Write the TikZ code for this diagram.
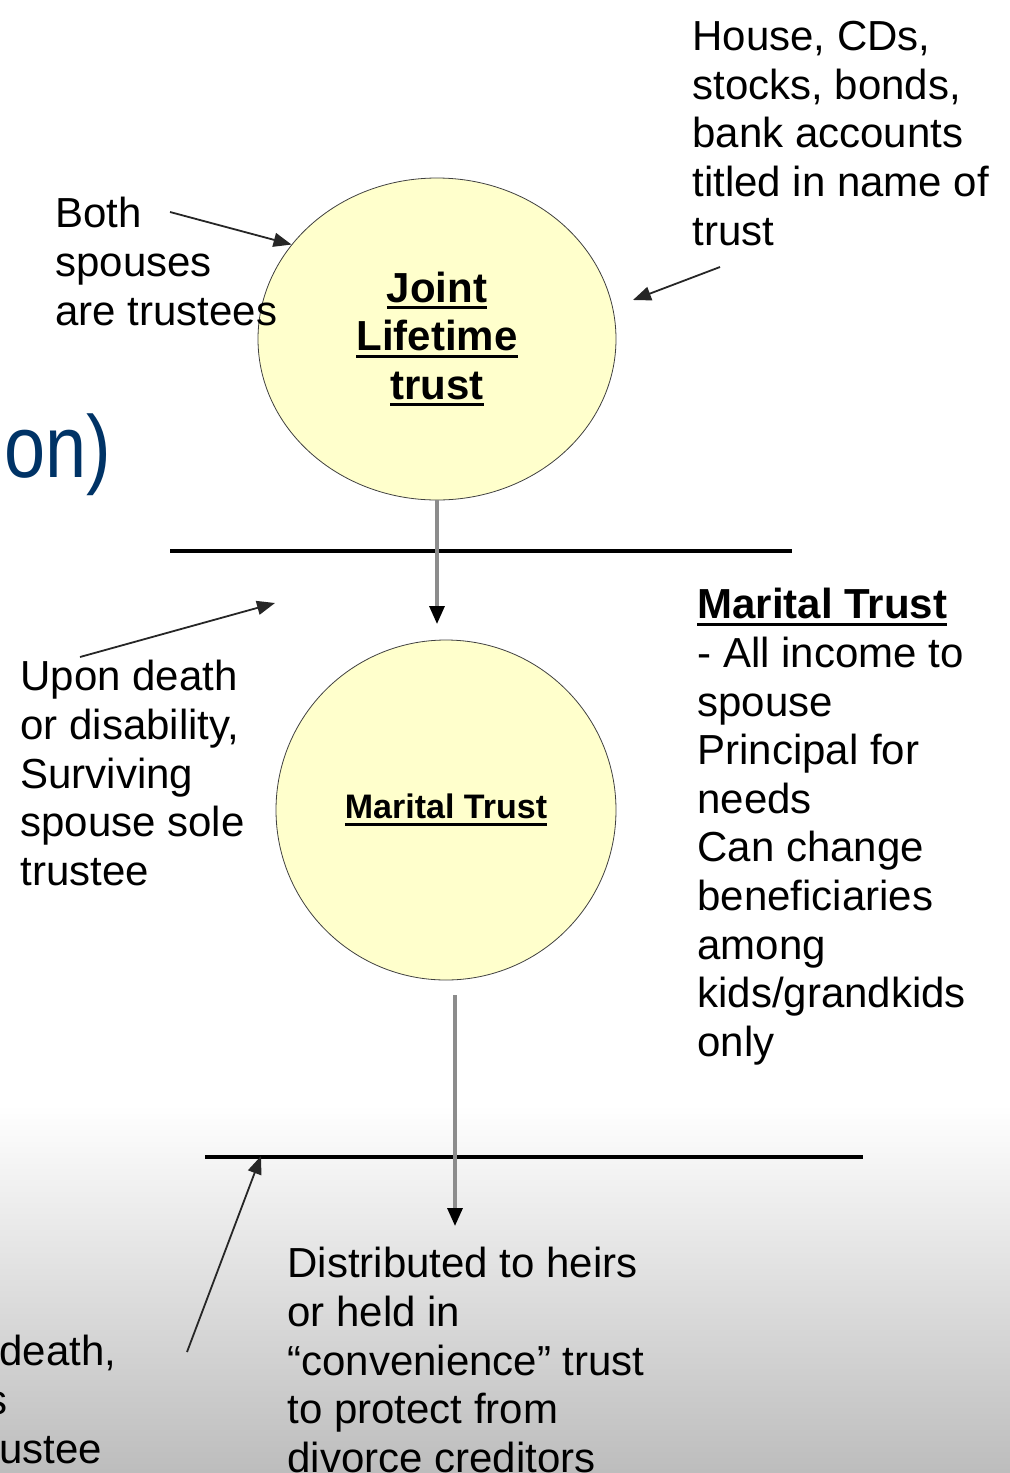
\documentclass[tikz,border=0pt]{standalone}
\usepackage{fontspec}
\setmainfont{Liberation Sans}
\usetikzlibrary{arrows.meta,shapes.geometric}

\definecolor{trustfill}{RGB}{255,255,204}
\definecolor{titleblue}{RGB}{0,51,102}
\newsavebox\ulbox
\newcommand{\undl}[1]{\sbox\ulbox{#1}\rlap{\rule[-3.6pt]{\wd\ulbox}{1.5pt}}\usebox\ulbox}

\begin{document}
\begin{tikzpicture}[x=0.5pt, y=-0.5pt,
  trust/.style   = {draw=black!75, thin, fill=trustfill, inner sep=0pt,
                    align=center, font=\bfseries\fontsize{21}{24.3}\selectfont},
  note/.style    = {anchor=north west, inner sep=0pt, align=left,
                    font=\fontsize{21}{24.3}\selectfont},
  arrow/.style   = {draw=black!85, line width=0.9pt,
                    -{Triangle[length=9pt,width=7pt]}},
  flow/.style    = {draw=black!45, line width=1.6pt,
                    -{Triangle[length=9pt,width=7.5pt,black]}},
  divider/.style = {line width=1.6pt},
]
  % slide background, fading to grey at the foot
  \shade[top color=white, bottom color=black!26] (0,1105) rectangle (1010,1473);
  \useasboundingbox (0,0) rectangle (1010,1473);

  \node[anchor=base west, inner sep=0pt, text=titleblue, xscale=0.84, transform shape,
        font=\fontsize{44}{52}\selectfont] (title) at (4,477) {on)};

  \node[trust, ellipse, minimum width=179pt, minimum height=161pt] (joint) at (437,339)
    {\undl{Joint}\\\undl{Lifetime}\\\undl{trust}};
  \node[trust, circle, minimum size=170pt, font=\bfseries\fontsize{17}{20}\selectfont]
    (marital) at (446,810) {\undl{Marital Trust}};

  \node[note] (both) at (55,197) {Both\\spouses\\are trustees};
  \node[note] (assets) at (692,21) {House, CDs,\\stocks, bonds,\\bank accounts\\titled in name of\\trust};
  \node[note] (upon) at (20,660) {Upon death\\or disability,\\Surviving\\spouse sole\\trustee};
  \node[note] (terms) at (697,588)
    {\textbf{\undl{Marital Trust}}\\- All income to\\spouse\\Principal for\\needs\\Can change\\beneficiaries\\among\\kids/grandkids\\only};
  \node[note] (heirs) at (287,1247)
    {Distributed to heirs\\or held in\\“convenience” trust\\to protect from\\divorce creditors};
  \node[note] (second) at (-1,1335) {death,\\\hspace*{4pt}\llap{s}\\ustee};

  \coordinate (bothTail) at (170,212);
  \coordinate (assetsTail) at (720,267);
  \coordinate (assetsHead) at (633,300);
  \coordinate (uponTail) at (80,657);
  \coordinate (uponHead) at (275,603);
  \coordinate (jointStop) at (437,624);
  \coordinate (maritalOut) at (455,995);
  \coordinate (heirsHead) at (455,1226);
  \coordinate (secondTail) at (187,1352);
  \coordinate (secondHead) at (261,1156);

  \coordinate (d1w) at (170,551);
  \coordinate (d1e) at (792,551);
  \coordinate (d2w) at (205,1157);
  \coordinate (d2e) at (863,1157);
  \draw[divider] (d1w) -- (d1e);
  \draw[divider] (d2w) -- (d2e);

  \draw[arrow] (bothTail) -- (joint.147);
  \draw[arrow] (assetsTail) -- (assetsHead);
  \draw[arrow] (uponTail) -- (uponHead);
  \draw[arrow] (secondTail) -- (secondHead);
  \draw[flow] (joint.south) -- (jointStop);
  \draw[flow] (maritalOut) -- (heirsHead);
\end{tikzpicture}
\end{document}
